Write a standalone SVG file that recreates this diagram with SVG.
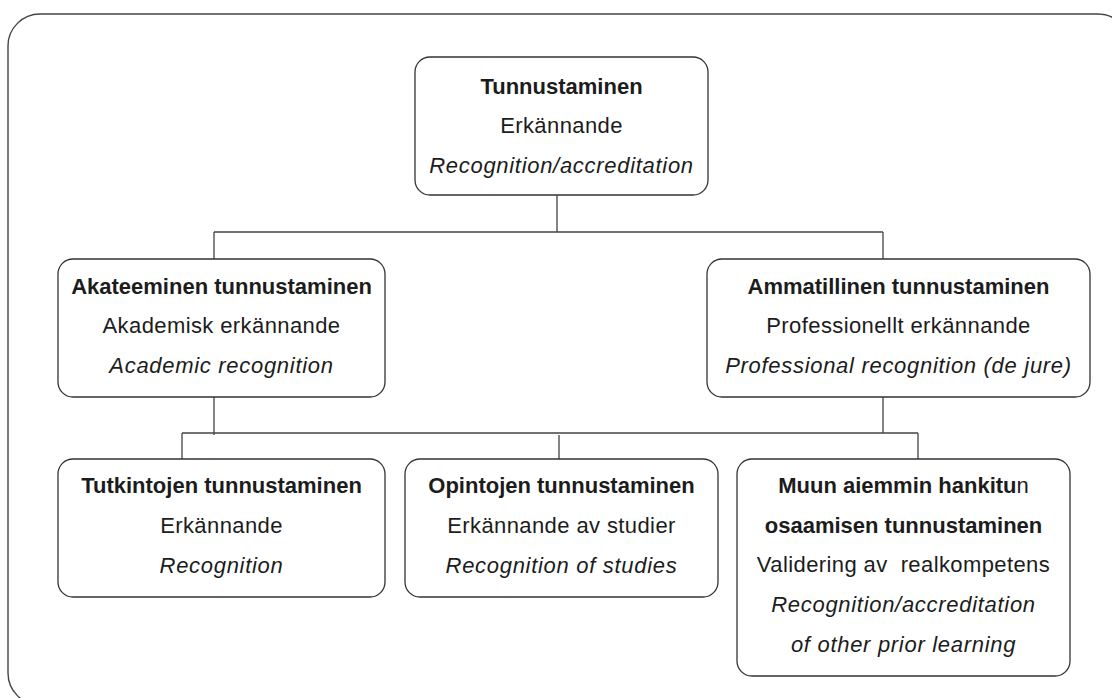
<svg xmlns="http://www.w3.org/2000/svg" width="1112" height="698" viewBox="0 0 1112 698">
<style>
.frame{fill:#fff;stroke:#444;stroke-width:1.4}
.box{fill:#fff;stroke:#333;stroke-width:1.3}
.conn{fill:none;stroke:#444;stroke-width:1.3}
text{font-family:"Liberation Sans",Arial,sans-serif;font-size:22px;fill:#1c1c1c;text-anchor:middle}
.b{font-weight:bold}
.r{letter-spacing:0.4px}
.i{font-style:italic;letter-spacing:0.7px}
.n{font-weight:normal}
</style>
<rect x="0" y="0" width="1112" height="698" fill="#fff"/>
<rect class="frame" x="8" y="14" width="1122" height="691" rx="32" ry="32"/>
<g id="connectors">
<path class="conn" d="M557 195 V232 M214 232 H883 M214 232 V259 M883 232 V259"/>
<path class="conn" d="M214 397 V435 M883 397 V433 M182 433 H918 M182 433 V459 M559 435 V459 M918 433 V459"/>
</g>
<g id="n-tunnustaminen">
<rect class="box" x="415" y="57" width="293" height="138" rx="15"/>
<text class="b" x="561.5" y="94">Tunnustaminen</text>
<text class="r" x="561.5" y="133">Erkännande</text>
<text class="i" x="561.5" y="173">Recognition/accreditation</text>
</g>
<g id="n-akateeminen">
<rect class="box" x="58" y="259" width="327" height="138" rx="15"/>
<text class="b" x="221.5" y="294">Akateeminen tunnustaminen</text>
<text class="r" x="221.5" y="333">Akademisk erkännande</text>
<text class="i" x="221.5" y="373">Academic recognition</text>
</g>
<g id="n-ammatillinen">
<rect class="box" x="707" y="259" width="383" height="138" rx="15"/>
<text class="b" x="898.5" y="294">Ammatillinen tunnustaminen</text>
<text class="r" x="898.5" y="333">Professionellt erkännande</text>
<text class="i" x="898.5" y="373">Professional recognition (de jure)</text>
</g>
<g id="n-tutkintojen">
<rect class="box" x="58" y="459" width="327" height="138" rx="15"/>
<text class="b" x="221.5" y="493">Tutkintojen tunnustaminen</text>
<text class="r" x="221.5" y="533">Erkännande</text>
<text class="i" x="221.5" y="573">Recognition</text>
</g>
<g id="n-opintojen">
<rect class="box" x="405" y="459" width="313" height="138" rx="15"/>
<text class="b" x="561.5" y="493">Opintojen tunnustaminen</text>
<text class="r" x="561.5" y="533">Erkännande av studier</text>
<text class="i" x="561.5" y="573">Recognition of studies</text>
</g>
<g id="n-muun">
<rect class="box" x="737" y="459" width="333" height="217" rx="15"/>
<text class="b" x="903.5" y="493">Muun aiemmin hankitu<tspan class="n">n</tspan></text>
<text class="b" x="903.5" y="533">osaamisen tunnustaminen</text>
<text class="r" x="903.5" y="572" xml:space="preserve" style="white-space:pre">Validering av  realkompetens</text>
<text class="i" x="903.5" y="612">Recognition/accreditation</text>
<text class="i" x="903.5" y="652">of other prior learning</text>
</g>
</svg>
